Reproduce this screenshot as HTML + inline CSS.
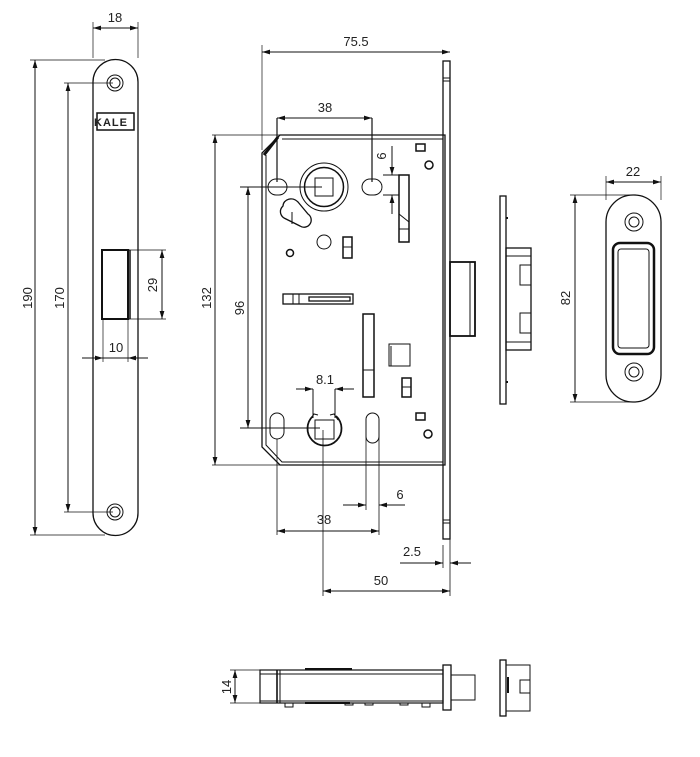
<!DOCTYPE html>
<html><head><meta charset="utf-8"><style>
html,body{margin:0;padding:0;background:#fff;}
svg{display:block}
text{font-family:"Liberation Sans",sans-serif;font-size:13px;fill:#222}
</style></head><body>
<svg width="700" height="757" viewBox="0 0 700 757" xmlns="http://www.w3.org/2000/svg">
<defs>
<marker id="a" viewBox="0 0 10 6" refX="10" refY="3" markerWidth="8" markerHeight="5" orient="auto-start-reverse"><path d="M0,0L10,3L0,6z" fill="#111"/></marker>
</defs>
<g stroke="#111" fill="none" stroke-width="1">
<!-- LEFT FACEPLATE -->
<path d="M93,82 A22.5,22.5 0 0 1 138,82 L138,513 A22.5,22.5 0 0 1 93,513 Z" stroke-width="1.3"/>
<circle cx="115" cy="83" r="8"/><circle cx="115" cy="83" r="5"/>
<circle cx="115" cy="512" r="8"/><circle cx="115" cy="512" r="5"/>
<rect x="97" y="113" width="37" height="17" stroke-width="1.5"/>
<rect x="102" y="250" width="26" height="69" stroke-width="2"/>
<line x1="128" y1="250" x2="130" y2="250"/><line x1="128" y1="319" x2="130" y2="319"/>
<line x1="130" y1="250" x2="130" y2="319" stroke-width="1.5"/>
<!-- dims left -->
<line x1="93" y1="22" x2="93" y2="58" stroke-width=".7"/><line x1="138" y1="22" x2="138" y2="58" stroke-width=".7"/>
<line x1="93" y1="28" x2="138" y2="28" marker-start="url(#a)" marker-end="url(#a)"/>
<line x1="30" y1="60" x2="105" y2="60" stroke-width=".7"/><line x1="30" y1="535" x2="105" y2="535" stroke-width=".7"/>
<line x1="35" y1="60" x2="35" y2="535" marker-start="url(#a)" marker-end="url(#a)"/>
<line x1="64" y1="83" x2="113" y2="83" stroke-width=".7"/><line x1="64" y1="512" x2="113" y2="512" stroke-width=".7"/>
<line x1="68" y1="83" x2="68" y2="512" marker-start="url(#a)" marker-end="url(#a)"/>
<line x1="130" y1="250" x2="166" y2="250" stroke-width=".7"/><line x1="130" y1="319" x2="166" y2="319" stroke-width=".7"/>
<line x1="162" y1="250" x2="162" y2="319" marker-start="url(#a)" marker-end="url(#a)"/>
<line x1="103" y1="319" x2="103" y2="362" stroke-width=".7"/><line x1="128" y1="319" x2="128" y2="362" stroke-width=".7"/>
<line x1="82" y1="358" x2="103" y2="358" marker-end="url(#a)"/><line x1="148" y1="358" x2="128" y2="358" marker-end="url(#a)"/>
<line x1="103" y1="358" x2="128" y2="358"/>

<!-- LOCK BODY -->
<path d="M280,135 L445,135 L445,465 L280,465 L262,447 L262,153 Z" stroke-width="1.3"/>
<path d="M282,139 L443,139 M266,155 L266,445 L282,462 L443,462" stroke-width="1"/>
<path d="M264,155 L278,137" stroke-width="3"/>
<rect x="443" y="61" width="7" height="478" stroke-width="1.3"/>
<line x1="443" y1="78" x2="450" y2="78"/><line x1="443" y1="81" x2="450" y2="81"/>
<rect x="450" y="262" width="25" height="74" stroke-width="1.8"/><line x1="470" y1="262" x2="470" y2="336"/>
<line x1="443" y1="520" x2="450" y2="520"/><line x1="443" y1="523" x2="450" y2="523"/>
<!-- upper hub -->
<circle cx="324" cy="187" r="24"/><circle cx="324" cy="187" r="19.5" stroke-width="1.5"/>
<rect x="315" y="178" width="18" height="18"/>
<rect x="268" y="179" width="19" height="16" rx="8"/>
<rect x="362" y="179" width="20" height="16" rx="8"/>
<path d="M277,182 L277,118" stroke-width="1.2"/><path d="M372,182 L372,118" stroke-width="1.2"/>
<line x1="240" y1="187" x2="322" y2="187"/>
<rect x="399" y="175" width="10" height="67" stroke-width="1.5"/><line x1="399" y1="229" x2="409" y2="229"/><path d="M399,214 L409,222"/>
<line x1="383" y1="175" x2="399" y2="175"/><line x1="383" y1="195" x2="399" y2="195"/>
<line x1="392" y1="146" x2="392" y2="175" marker-end="url(#a)"/><line x1="392" y1="214" x2="392" y2="195" marker-end="url(#a)"/>
<rect x="416" y="144" width="9" height="7" stroke-width="1.5"/>
<circle cx="429" cy="165" r="4" stroke-width="1.5"/>
<path d="M283,206 a9,8 30 0 1 15,-4 l10,12 a7,7 0 0 1 -8,12 l-16,-8 a9,8 0 0 1 -1,-12z" stroke-width="1.3"/>
<line x1="292" y1="212" x2="292" y2="224"/>
<circle cx="324" cy="242" r="7"/>
<circle cx="290" cy="253" r="3.5" stroke-width="1.5"/>
<rect x="343" y="237" width="9" height="21" stroke-width="1.5"/><line x1="343" y1="247" x2="352" y2="247"/>
<!-- middle -->
<rect x="283" y="294" width="70" height="10" stroke-width="1.3"/><line x1="293" y1="294" x2="293" y2="304"/><line x1="299" y1="294" x2="299" y2="304"/><rect x="309" y="297" width="41" height="4" stroke-width="1.3"/>
<rect x="363" y="314" width="11" height="83" stroke-width="1.5"/><line x1="363" y1="370" x2="374" y2="370"/>
<rect x="389" y="344" width="21" height="22"/><line x1="391" y1="346" x2="391" y2="366"/>
<rect x="402" y="378" width="9" height="19" stroke-width="1.5"/><line x1="402" y1="387" x2="411" y2="387"/>
<rect x="416" y="413" width="9" height="7" stroke-width="1.5"/>
<circle cx="428" cy="434" r="4" stroke-width="1.5"/>
<!-- lower hub -->
<path d="M313,416 A17,17 0 1 0 336,416" stroke-width="1.8"/>
<path d="M310,420 L314,414 L318,415 M338,420 L334,414 L330,415"/>
<rect x="315" y="420" width="19" height="19"/>
<rect x="270" y="413" width="14" height="26" rx="7"/>
<rect x="366" y="413" width="13" height="30" rx="6.5"/>
<line x1="240" y1="428" x2="320" y2="428"/>
<line x1="313" y1="389" x2="313" y2="418"/><line x1="335" y1="389" x2="335" y2="418"/>
<path d="M296,389 L313,389" marker-end="url(#a)"/><path d="M354,389 L335,389" marker-end="url(#a)"/>
<!-- dims lock -->
<line x1="262" y1="45" x2="262" y2="150" stroke-width=".7"/>
<line x1="262" y1="52" x2="450" y2="52" marker-start="url(#a)" marker-end="url(#a)"/>
<line x1="277" y1="118" x2="372" y2="118" marker-start="url(#a)" marker-end="url(#a)"/>
<line x1="212" y1="135" x2="280" y2="135" stroke-width=".7"/><line x1="212" y1="465" x2="280" y2="465" stroke-width=".7"/>
<line x1="215" y1="135" x2="215" y2="465" marker-start="url(#a)" marker-end="url(#a)"/>
<line x1="248" y1="187" x2="248" y2="428" marker-start="url(#a)" marker-end="url(#a)"/>
<line x1="277" y1="439" x2="277" y2="535" stroke-width=".8"/>
<line x1="323" y1="430" x2="323" y2="596" stroke-width=".8"/>
<line x1="366" y1="430" x2="366" y2="510" stroke-width=".8"/>
<line x1="379" y1="430" x2="379" y2="535" stroke-width=".8"/>
<line x1="343" y1="505" x2="366" y2="505" marker-end="url(#a)"/><line x1="405" y1="505" x2="379" y2="505" marker-end="url(#a)"/>
<line x1="277" y1="531" x2="379" y2="531" marker-start="url(#a)" marker-end="url(#a)"/>
<line x1="443" y1="545" x2="443" y2="568" stroke-width=".8"/><line x1="450" y1="539" x2="450" y2="596" stroke-width=".8"/>
<line x1="400" y1="563" x2="443" y2="563" marker-end="url(#a)"/><line x1="471" y1="563" x2="450" y2="563" marker-end="url(#a)"/>
<line x1="323" y1="591" x2="450" y2="591" marker-start="url(#a)" marker-end="url(#a)"/>

<!-- STRIKE side -->
<rect x="500" y="196" width="6" height="208" stroke-width="1.3"/>
<rect x="506" y="248" width="25" height="102" stroke-width="1.3"/>
<line x1="506" y1="256" x2="531" y2="256"/><line x1="506" y1="342" x2="531" y2="342"/>
<path d="M531,265 L520,265 L520,285 L531,285 M531,313 L520,313 L520,333 L531,333"/>
<line x1="506" y1="218" x2="508" y2="218" stroke-width="2"/><line x1="506" y1="382" x2="508" y2="382" stroke-width="2"/>
<!-- STRIKE front -->
<rect x="606" y="195" width="55" height="207" rx="27" stroke-width="1.3"/>
<circle cx="634" cy="222" r="9"/><circle cx="634" cy="222" r="5"/>
<circle cx="634" cy="372" r="9"/><circle cx="634" cy="372" r="5"/>
<rect x="613" y="243" width="41" height="111" rx="7" stroke-width="2.5"/>
<rect x="618" y="249" width="31" height="99" rx="3"/>
<line x1="606" y1="176" x2="606" y2="200" stroke-width=".7"/><line x1="661" y1="176" x2="661" y2="200" stroke-width=".7"/>
<line x1="606" y1="182" x2="661" y2="182" marker-start="url(#a)" marker-end="url(#a)"/>
<line x1="570" y1="195" x2="630" y2="195" stroke-width=".7"/><line x1="570" y1="402" x2="630" y2="402" stroke-width=".7"/>
<line x1="575" y1="195" x2="575" y2="402" marker-start="url(#a)" marker-end="url(#a)"/>

<!-- BOTTOM VIEW -->
<rect x="260" y="670" width="183" height="33" stroke-width="1.2"/>
<line x1="260" y1="674" x2="443" y2="674"/><line x1="260" y1="701" x2="443" y2="701"/>
<line x1="277" y1="670" x2="277" y2="703" stroke-width="1.6"/><line x1="280" y1="670" x2="280" y2="703"/>
<line x1="305" y1="669" x2="352" y2="669" stroke-width="2"/>
<line x1="305" y1="703" x2="350" y2="703" stroke-width="2"/>
<rect x="285" y="703" width="8" height="4"/><rect x="345" y="703" width="8" height="2"/><rect x="365" y="703" width="8" height="2"/><rect x="400" y="703" width="8" height="2"/><rect x="422" y="703" width="8" height="4"/>
<rect x="443" y="665" width="8" height="45" stroke-width="1.3"/>
<rect x="451" y="675" width="24" height="25"/>
<rect x="500" y="660" width="6" height="56" stroke-width="1.3"/>
<rect x="506" y="665" width="24" height="46"/>
<path d="M530,680 L520,680 L520,693 L530,693"/>
<line x1="508" y1="677" x2="508" y2="693" stroke-width="2"/>
<line x1="230" y1="670" x2="260" y2="670" stroke-width=".7"/><line x1="230" y1="703" x2="260" y2="703" stroke-width=".7"/>
<line x1="235" y1="670" x2="235" y2="703" marker-start="url(#a)" marker-end="url(#a)"/>
</g>
<g>
<text x="94" y="126" style="font-size:11px;font-weight:bold;letter-spacing:1px">KALE</text>
<text x="115" y="22" text-anchor="middle">18</text>
<text transform="translate(32,298) rotate(-90)" text-anchor="middle">190</text>
<text transform="translate(64,298) rotate(-90)" text-anchor="middle">170</text>
<text transform="translate(157,285) rotate(-90)" text-anchor="middle">29</text>
<text x="116" y="352" text-anchor="middle">10</text>
<text x="356" y="46" text-anchor="middle">75.5</text>
<text x="325" y="112" text-anchor="middle">38</text>
<text transform="translate(386,156) rotate(-90)" text-anchor="middle">6</text>
<text transform="translate(211,298) rotate(-90)" text-anchor="middle">132</text>
<text transform="translate(244,308) rotate(-90)" text-anchor="middle">96</text>
<text x="325" y="384" text-anchor="middle">8.1</text>
<text x="400" y="499" text-anchor="middle">6</text>
<text x="324" y="524" text-anchor="middle">38</text>
<text x="412" y="556" text-anchor="middle">2.5</text>
<text x="381" y="585" text-anchor="middle">50</text>
<text x="633" y="176" text-anchor="middle">22</text>
<text transform="translate(570,298) rotate(-90)" text-anchor="middle">82</text>
<text transform="translate(231,687) rotate(-90)" text-anchor="middle">14</text>
</g>
</svg>
</body></html>
